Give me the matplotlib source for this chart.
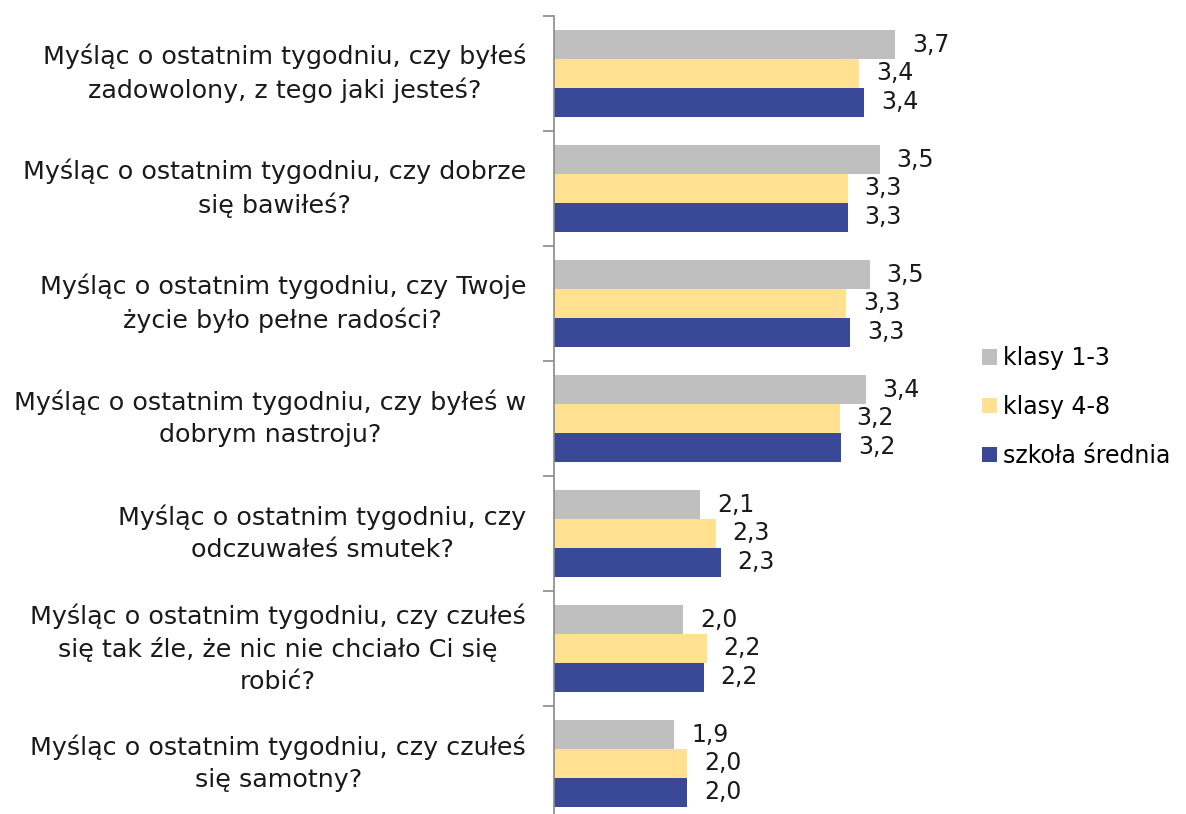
import matplotlib
matplotlib.use("Agg")
import matplotlib.pyplot as plt
import numpy as np

# Questions (top to bottom)
questions = [
    "Myśląc o ostatnim tygodniu, czy byłeś\nzadowolony, z tego jaki jesteś?",
    "Myśląc o ostatnim tygodniu, czy dobrze\nsię bawiłeś?",
    "Myśląc o ostatnim tygodniu, czy Twoje\nżycie było pełne radości?",
    "Myśląc o ostatnim tygodniu, czy byłeś w\ndobrym nastroju?",
    "Myśląc o ostatnim tygodniu, czy\nodczuwałeś smutek?",
    "Myśląc o ostatnim tygodniu, czy czułeś\nsię tak źle, że nic nie chciało Ci się\nrobić?",
    "Myśląc o ostatnim tygodniu, czy czułeś\nsię samotny?",
]

# Mean scores per group
klasy_1_3 = [3.66, 3.54, 3.46, 3.43, 2.14, 2.01, 1.94]
klasy_4_8 = [3.38, 3.29, 3.28, 3.23, 2.26, 2.19, 2.04]
szkola_srednia = [3.42, 3.29, 3.31, 3.24, 2.30, 2.17, 2.04]

series = [
    ("klasy 1-3", klasy_1_3, "#BFBFBF"),
    ("klasy 4-8", klasy_4_8, "#FFE190"),
    ("szkoła średnia", szkola_srednia, "#3A4898"),
]

plt.rcParams["font.family"] = ["DejaVu Sans"]

fig = plt.figure(figsize=(11.86, 8.14), dpi=100)
ax = fig.add_axes([0.467, -0.0086, 0.343, 0.989])

y = np.arange(len(questions))
h = 0.25
base = 1.0
for i, (name, vals, col) in enumerate(series):
    vals = np.array(vals)
    bars = ax.barh(y + (i - 1) * h, vals - base, left=base, height=h,
                   color=col, label=name)
    ax.bar_label(bars, labels=[f"{v:.1f}".replace(".", ",") for v in vals],
                 padding=12, fontsize=17, color="#1a1a1a")

ax.set_xlim(1, 4.17)
ax.set_ylim(len(questions) - 0.5, -0.5)

ax.set_yticks(y)
ax.set_yticklabels(questions, fontsize=18.3, linespacing=1.4, color="#1a1a1a")
for lbl in ax.get_yticklabels():
    lbl.set_multialignment("center")
    lbl.set_verticalalignment("center")
ax.set_yticks(np.arange(-0.5, len(questions), 1), minor=True)
ax.tick_params(axis="y", which="major", length=0, pad=20)
ax.tick_params(axis="y", which="minor", length=8, color="#898989", width=1.2)
ax.set_xticks([])

for s in ["top", "right", "bottom"]:
    ax.spines[s].set_visible(False)
ax.spines["left"].set_color("#898989")
ax.spines["left"].set_linewidth(1.2)

fig.legend(loc="center left", bbox_to_anchor=(0.828, 0.500), frameon=False,
           fontsize=17, handlelength=0.63, handleheight=0.63,
           handletextpad=0.25, labelspacing=1.05, borderaxespad=0,
           borderpad=0)

fig.savefig("out.png", dpi=100)
